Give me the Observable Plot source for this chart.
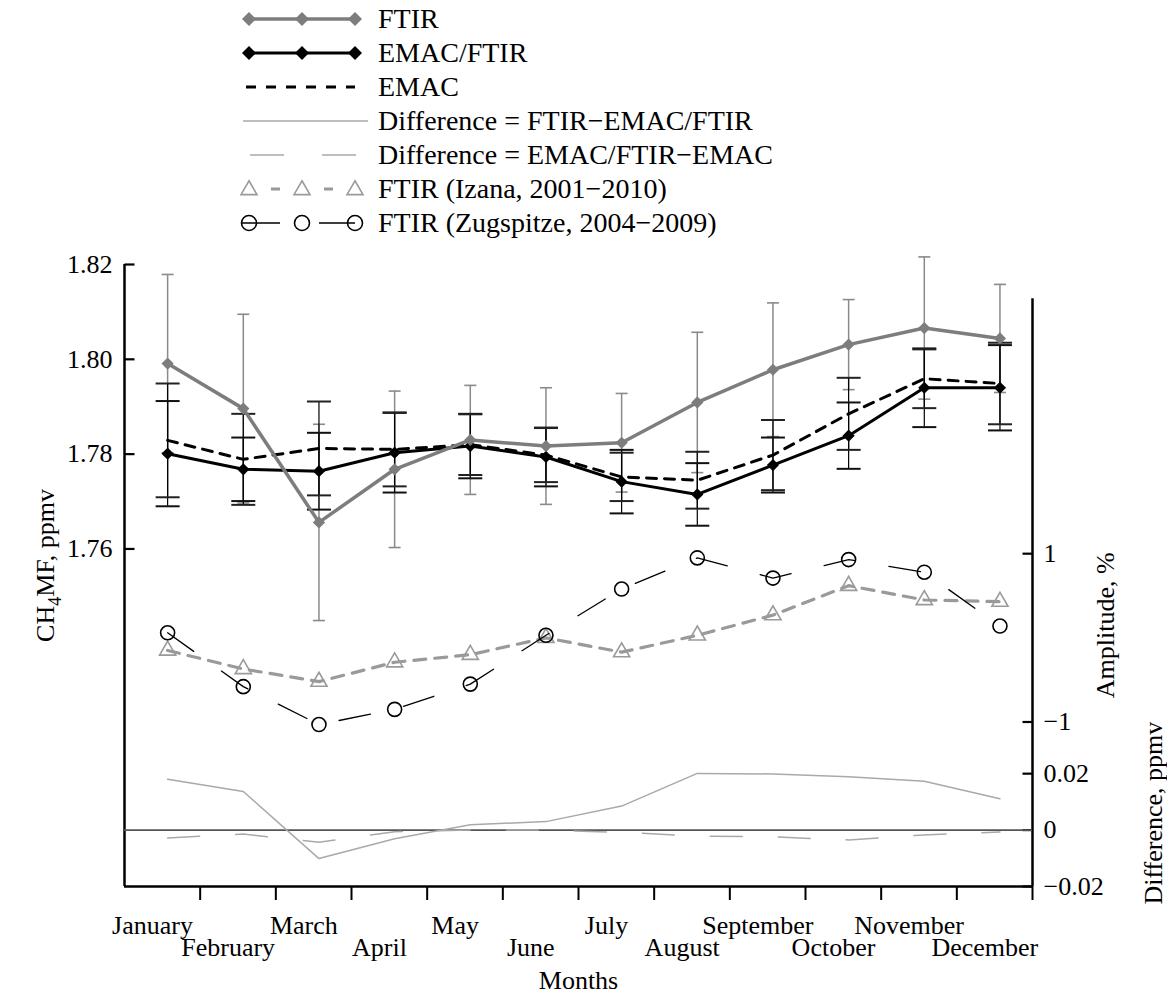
<!DOCTYPE html>
<html><head><meta charset="utf-8">
<script src="https://cdn.jsdelivr.net/npm/d3@7"></script>
<script src="https://cdn.jsdelivr.net/npm/@observablehq/plot@0.6"></script>
<style>
body{margin:0;background:#fff;font-family:"Liberation Serif","Times New Roman",serif;color:#000;}
#legend{position:relative;height:240px;width:1167px;}
.row{position:absolute;left:238px;height:34px;display:flex;align-items:center;font-family:"Liberation Serif","Times New Roman",serif;font-size:28px;white-space:nowrap;}
.row svg{display:block;}
#chart svg{display:block;}
</style></head><body>
<div id="legend"></div>
<div id="chart"></div>
<script>
// ---------- data ----------
const months = ["January","February","March","April","May","June","July","August","September","October","November","December"];
const ftir        = [1.7991,1.7896,1.7656,1.7768,1.7830,1.7817,1.7824,1.7909,1.7978,1.8031,1.8066,1.8044];
const ftirErr     = [0.0188,0.0199,0.0207,0.0165,0.0115,0.0123,0.0104,0.0148,0.0141,0.0095,0.0150,0.0114];
const emacFtir    = [1.7801,1.7768,1.7764,1.7803,1.7817,1.7794,1.7742,1.7715,1.7777,1.7839,1.7940,1.7940];
const emacFtirErr = [0.0111,0.0067,0.0081,0.0084,0.0068,0.0062,0.0067,0.0066,0.0058,0.0070,0.0083,0.0090];
const emac        = [1.7829,1.7789,1.7812,1.7810,1.7820,1.7798,1.7752,1.7745,1.7798,1.7885,1.7959,1.7949];
const emacErr     = [0.0120,0.0096,0.0099,0.0078,0.0064,0.0057,0.0051,0.0060,0.0074,0.0076,0.0062,0.0086];
const izana       = [-0.15,-0.37,-0.52,-0.29,-0.20,0.00,-0.17,0.03,0.27,0.62,0.45,0.43];   // amplitude, %
const zugspitze   = [0.06,-0.58,-1.03,-0.85,-0.55,0.03,0.58,0.95,0.71,0.93,0.78,0.14];    // amplitude, %
const diffFtirEmacFtir = [0.0180,0.0137,-0.0101,-0.0031,0.0019,0.0030,0.0085,0.0201,0.0199,0.0189,0.0173,0.0111];
const diffEmacFtirEmac = [-0.0028,-0.0014,-0.0043,-0.0006,0.0000,0.0000,-0.0008,-0.0021,-0.0024,-0.0035,-0.0017,-0.0007];
const leftTicks = [1.76,1.78,1.80,1.82];
const ampTicks  = [1,-1];
const diffTicks = [0.02,0,-0.02];
const seriesNames = ["FTIR","EMAC/FTIR","EMAC","Difference = FTIR\u2212EMAC/FTIR","Difference = EMAC/FTIR\u2212EMAC","FTIR (Izana, 2001\u22122010)","FTIR (Zugspitze, 2004\u22122009)"];
const titles = {left:"CH4MF, ppmv", amp:"Amplitude, %", diff:"Difference, ppmv", x:"Months"};

// ---------- secondary axes aligned onto the ppmv scale ----------
const AMP_P1 = 1.7590, AMP_M1 = 1.7235;    // ppmv levels of amplitude +1 / -1
const DIFF_0 = 1.7007, DIFF_02 = 1.7126;   // ppmv levels of difference 0 / 0.02
const ampY  = a => AMP_M1 + (a + 1) / 2 * (AMP_P1 - AMP_M1);
const diffY = d => DIFF_0 + d / 0.02 * (DIFF_02 - DIFF_0);
const yMin = diffY(-0.02), yMax = 1.82;
const xMin = -0.57, xMax = 11.43;
const rightAxisTop = 1.8128;

const rows = months.map((m, i) => ({
  i, m, ftir: ftir[i], ftirErr: ftirErr[i], emacFtir: emacFtir[i], emacFtirErr: emacFtirErr[i],
  emac: emac[i], emacErr: emacErr[i], izana: izana[i], zug: zugspitze[i],
  d1: diffFtirEmacFtir[i], d2: diffEmacFtirEmac[i]
}));

const GRAY = "#7d7d7d", EGRAY = "#8a8a8a", LGRAY = "#a9a9a9", IZ = "#9a9a9a";
const hline = {draw(ctx, size){ const r = Math.sqrt(size / Math.PI); ctx.moveTo(-r, 0); ctx.lineTo(r, 0); }};
const fmtDiff = d => d === 0 ? "0" : d3.format(".2f")(d);
const fmtAmp = d3.format("d");

// ---------- legend ----------
const lg = d3.select("#legend");
seriesNames.forEach((name, k) => {
  const row = lg.append("div").attr("class", "row").style("top", (2 + 34 * k) + "px");
  const svg = row.append("svg").attr("width", 140).attr("height", 34);
  const cy = 17, xs = [11, 64, 117];
  const sym = (type, size) => d3.symbol(type, size)();
  if (k === 0 || k === 1) {
    const c = k === 0 ? GRAY : "#000";
    svg.append("line").attr("x1", xs[0]).attr("x2", xs[2]).attr("y1", cy).attr("y2", cy).attr("stroke", c).attr("stroke-width", k === 0 ? 3.5 : 3);
    xs.forEach(x => svg.append("path").attr("d", sym(d3.symbolDiamond2, 125)).attr("transform", `translate(${x},${cy})`).attr("fill", c));
  } else if (k === 2) {
    svg.append("line").attr("x1", 8).attr("x2", 117).attr("y1", cy).attr("y2", cy).attr("stroke", "#000").attr("stroke-width", 3).attr("stroke-dasharray", "10,10");
  } else if (k === 3) {
    svg.append("line").attr("x1", 5).attr("x2", 130).attr("y1", cy).attr("y2", cy).attr("stroke", LGRAY).attr("stroke-width", 1.5);
  } else if (k === 4) {
    svg.append("line").attr("x1", 12).attr("x2", 120).attr("y1", cy).attr("y2", cy).attr("stroke", LGRAY).attr("stroke-width", 1.5).attr("stroke-dasharray", "34,38");
  } else if (k === 5) {
    svg.append("line").attr("x1", 11).attr("x2", 117).attr("y1", cy).attr("y2", cy).attr("stroke", IZ).attr("stroke-width", 3).attr("stroke-dasharray", "0,22,9,44,9,22");
    xs.forEach(x => svg.append("path").attr("d", sym(d3.symbolTriangle, 111)).attr("transform", `translate(${x},${cy + 1})`).attr("fill", "none").attr("stroke", IZ).attr("stroke-width", 1.6));
  } else {
    svg.append("line").attr("x1", 4).attr("x2", 117).attr("y1", cy).attr("y2", cy).attr("stroke", "#000").attr("stroke-width", 1.4).attr("stroke-dasharray", "38,39,36");
    xs.forEach(x => svg.append("circle").attr("cx", x).attr("cy", cy).attr("r", 7.5).attr("fill", "none").attr("stroke", "#000").attr("stroke-width", 1.6));
  }
  row.append("span").text(name);
});

// ---------- chart ----------
const idx = d3.range(months.length);
const chart = Plot.plot({
  width: 1167, height: 756,
  marginLeft: 124, marginRight: 135, marginTop: 24, marginBottom: 110,
  style: {fontFamily: '"Liberation Serif","Times New Roman",serif', fontSize: "26px", background: "white", color: "black", overflow: "visible"},
  x: {domain: [xMin, xMax]},
  y: {domain: [yMin, yMax]},
  marks: [
    // axes
    Plot.axisX({ticks: d3.range(12).map(k => k + 0.43), tickSize: 14, tickFormat: () => "", strokeWidth: 2, label: null}),
    Plot.text(idx.filter(i => i % 2 === 0), {x: i => i - 0.2, text: i => months[i], frameAnchor: "bottom", dy: 39, lineAnchor: "middle"}),
    Plot.text(idx.filter(i => i % 2 === 1), {x: i => i - 0.2, text: i => months[i], frameAnchor: "bottom", dy: 61, lineAnchor: "middle"}),
    Plot.text([titles.x], {frameAnchor: "bottom", dy: 94, lineAnchor: "middle"}),
    Plot.axisY({ticks: leftTicks, tickSize: 0, tickPadding: 12, tickFormat: d3.format(".2f"), label: null}),
    Plot.dot(leftTicks, {y: d => d, frameAnchor: "left", symbol: hline, r: 5, dx: 5, stroke: "#000", strokeWidth: 2.2}),
    Plot.text([titles.left], {frameAnchor: "left", dx: -79, dy: -10, rotate: -90, textAnchor: "middle", lineAnchor: "middle"}),
    Plot.ruleX([xMin], {y1: yMax, y2: yMin, stroke: "#000", strokeWidth: 2.5}),
    Plot.ruleX([xMax], {y1: rightAxisTop, y2: yMin, stroke: "#000", strokeWidth: 2.5}),
    Plot.ruleY([yMin], {stroke: "#000", strokeWidth: 2.5}),
    Plot.dot([...ampTicks.map(ampY), ...diffTicks.map(diffY)], {y: d => d, frameAnchor: "right", symbol: hline, r: 5, dx: -5, stroke: "#000", strokeWidth: 2.2}),
    Plot.text(ampTicks, {y: d => ampY(d), text: d => fmtAmp(d), frameAnchor: "right", dx: 11, textAnchor: "start", lineAnchor: "middle"}),
    Plot.text(diffTicks, {y: d => diffY(d), text: d => fmtDiff(d), frameAnchor: "right", dx: 11, textAnchor: "start", lineAnchor: "middle"}),
    Plot.text([titles.amp], {y: ampY(0.15), frameAnchor: "right", dx: 73, rotate: -90, textAnchor: "middle", lineAnchor: "middle"}),
    Plot.text([titles.diff], {y: diffY(0.006), frameAnchor: "right", dx: 121, rotate: -90, textAnchor: "middle", lineAnchor: "middle"}),

    // difference curves
    Plot.ruleY([0], {y: d => diffY(d), stroke: "#555", strokeWidth: 1.6}),
    Plot.line(rows, {x: "i", y: d => diffY(d.d1), stroke: LGRAY, strokeWidth: 1.5}),
    Plot.line(rows, {x: "i", y: d => diffY(d.d2), stroke: LGRAY, strokeWidth: 1.5, strokeDasharray: "32,36"}),

    // amplitude curves
    Plot.line(rows, {x: "i", y: d => ampY(d.izana), stroke: IZ, strokeWidth: 3.2, strokeDasharray: "12,9"}),
    Plot.dot(rows, {x: "i", y: d => ampY(d.izana), symbol: "triangle", r: 6, fill: "none", stroke: IZ, strokeWidth: 1.6}),
    Plot.line(rows, {x: "i", y: d => ampY(d.zug), stroke: "#000", strokeWidth: 1.3, strokeDasharray: "32,34"}),
    Plot.dot(rows, {x: "i", y: d => ampY(d.zug), symbol: "circle", r: 7, fill: "none", stroke: "#000", strokeWidth: 1.6}),

    // error bars
    Plot.ruleX(rows, {x: "i", y1: d => d.ftir - d.ftirErr, y2: d => d.ftir + d.ftirErr, stroke: EGRAY, strokeWidth: 1.5}),
    Plot.dot(rows, {x: "i", y: d => d.ftir + d.ftirErr, symbol: hline, r: 6, stroke: EGRAY, strokeWidth: 1.6}),
    Plot.dot(rows, {x: "i", y: d => d.ftir - d.ftirErr, symbol: hline, r: 6, stroke: EGRAY, strokeWidth: 1.6}),
    Plot.ruleX(rows, {x: "i", y1: d => d.emacFtir - d.emacFtirErr, y2: d => d.emacFtir + d.emacFtirErr, stroke: "#000", strokeWidth: 1.2}),
    Plot.ruleX(rows, {x: "i", y1: d => d.emac - d.emacErr, y2: d => d.emac + d.emacErr, stroke: "#000", strokeWidth: 1.2}),
    Plot.dot(rows, {x: "i", y: d => d.emacFtir + d.emacFtirErr, symbol: hline, r: 12, stroke: "#111", strokeWidth: 2}),
    Plot.dot(rows, {x: "i", y: d => d.emacFtir - d.emacFtirErr, symbol: hline, r: 12, stroke: "#111", strokeWidth: 2}),
    Plot.dot(rows, {x: "i", y: d => d.emac + d.emacErr, symbol: hline, r: 12, stroke: "#222", strokeWidth: 2}),
    Plot.dot(rows, {x: "i", y: d => d.emac - d.emacErr, symbol: hline, r: 12, stroke: "#222", strokeWidth: 2}),

    // main series
    Plot.line(rows, {x: "i", y: "emac", stroke: "#000", strokeWidth: 3, strokeDasharray: "10,8"}),
    Plot.line(rows, {x: "i", y: "emacFtir", stroke: "#000", strokeWidth: 3}),
    Plot.dot(rows, {x: "i", y: "emacFtir", symbol: "diamond2", r: 5.5, fill: "#000"}),
    Plot.line(rows, {x: "i", y: "ftir", stroke: GRAY, strokeWidth: 3.5}),
    Plot.dot(rows, {x: "i", y: "ftir", symbol: "diamond2", r: 5.5, fill: GRAY})
  ]
});
document.getElementById("chart").appendChild(chart);

// subscript in the CH4 axis title
d3.select(chart).selectAll("text").filter(function(){ return this.textContent === titles.left; })
  .each(function(){
    const t = d3.select(this); t.text(null);
    t.append("tspan").text("CH");
    t.append("tspan").attr("dy", 7).attr("font-size", 18).text("4");
    t.append("tspan").attr("dy", -7).text("MF, ppmv");
  });
</script>
</body></html>
